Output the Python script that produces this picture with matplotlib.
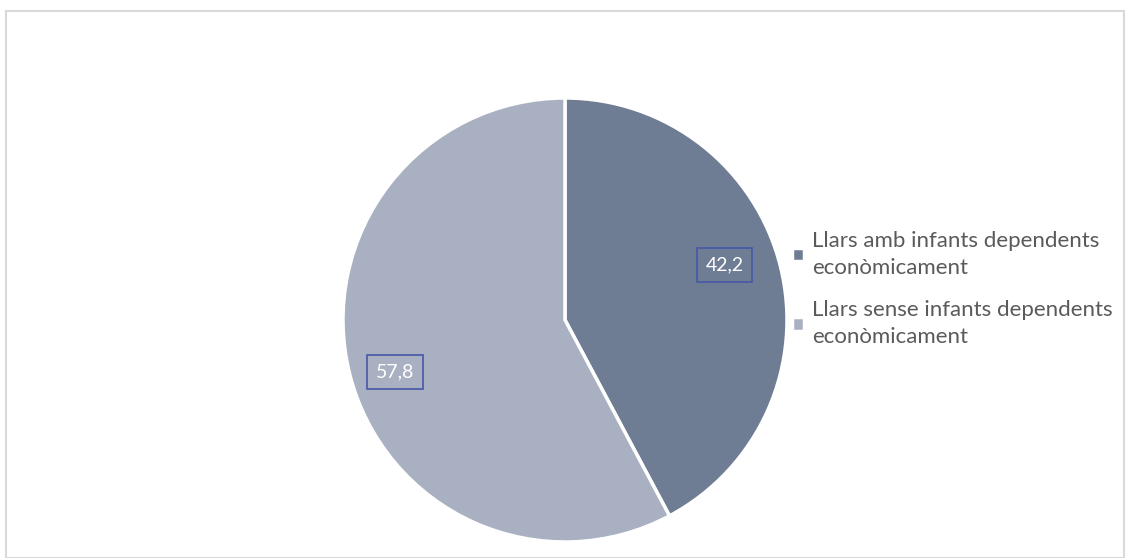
import matplotlib.pyplot as plt
import numpy as np

labels = ["Llars amb infants dependents\neconòmicament",
          "Llars sense infants dependents\neconòmicament"]
values = [42.2, 57.8]
value_labels = ["42,2", "57,8"]
colors = ["#6E7C94", "#A8B0C1"]

fig = plt.figure(figsize=(11.3, 5.58), dpi=100)
fig.patches.append(plt.Rectangle((6 / 1130, 0), 1 - 12 / 1130, 1 - 11 / 558,
                                 transform=fig.transFigure, fill=False,
                                 edgecolor="#D9D9D9", linewidth=1.5))

ax = fig.add_axes([0.3035, 0.0287, 0.393, 0.7957])
wedges, _ = ax.pie(values, colors=colors, startangle=90, counterclock=False,
                   radius=1.0, wedgeprops=dict(edgecolor="white", linewidth=2.5))
ax.set_xlim(-1.0, 1.0)
ax.set_ylim(-1.0, 1.0)
ax.set_aspect("equal")

# data labels placed inside each wedge
for w, txt, r, off in zip(wedges, value_labels, [0.76, 0.8], [5, 3]):
    ang = np.deg2rad((w.theta1 + w.theta2) / 2 + off)
    ax.text(r * np.cos(ang), r * np.sin(ang), txt, ha="center", va="center",
            color="white", fontsize=14, family="Lato",
            bbox=dict(boxstyle="square,pad=0.45", facecolor="none",
                      edgecolor="#4657A8", linewidth=1.2))

leg = fig.legend(wedges, labels, loc="center left", bbox_to_anchor=(0.683, 0.482),
                 frameon=False, handlelength=0.55, handleheight=0.55,
                 handletextpad=0.35, labelspacing=1.0,
                 prop=dict(family="Lato", size=16))
for t in leg.get_texts():
    t.set_color("#5A5A5A")
    t.set_linespacing(1.45)

fig.savefig("out.png", dpi=100)
